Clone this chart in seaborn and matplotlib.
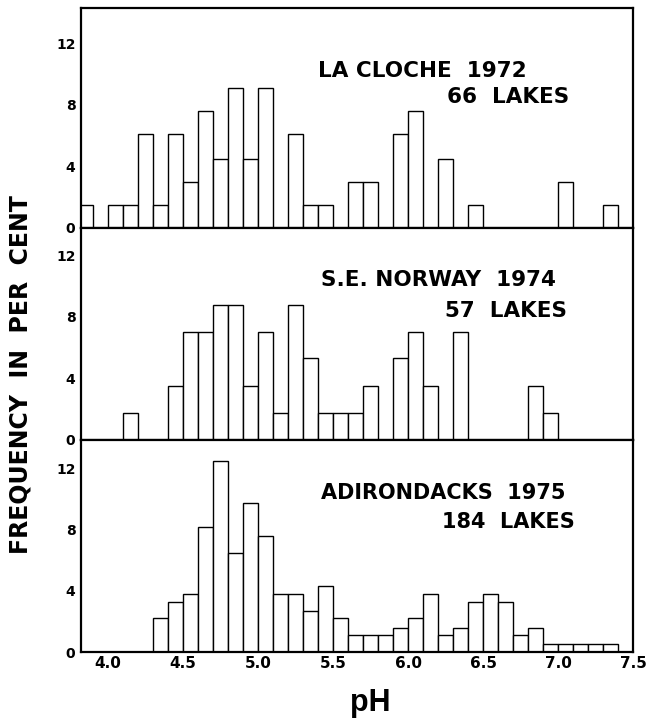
import numpy as np
import pandas as pd
import seaborn as sns
import matplotlib.pyplot as plt

# lower edge of each 0.1 pH class and its frequency in per cent
cloche_ph = [3.8, 4.0, 4.1, 4.2, 4.3, 4.4, 4.5, 4.6, 4.7, 4.8, 4.9, 5.0, 5.2, 5.3,
             5.4, 5.6, 5.7, 5.9, 6.0, 6.2, 6.4, 7.0, 7.3]
cloche_pct = [1.5, 1.5, 1.5, 6.1, 1.5, 6.1, 3.0, 7.6, 4.5, 9.1, 4.5, 9.1, 6.1, 1.5,
              1.5, 3.0, 3.0, 6.1, 7.6, 4.5, 1.5, 3.0, 1.5]

norway_ph = [4.1, 4.4, 4.5, 4.6, 4.7, 4.8, 4.9, 5.0, 5.1, 5.2, 5.3, 5.4, 5.5, 5.6,
             5.7, 5.9, 6.0, 6.1, 6.3, 6.8, 6.9]
norway_pct = [1.75, 3.5, 7.0, 7.0, 8.8, 8.8, 3.5, 7.0, 1.75, 8.8, 5.3, 1.75, 1.75, 1.75,
              3.5, 5.3, 7.0, 3.5, 7.0, 3.5, 1.75]

adk_ph = [4.3, 4.4, 4.5, 4.6, 4.7, 4.8, 4.9, 5.0, 5.1, 5.2, 5.3, 5.4, 5.5, 5.6, 5.7, 5.8,
          5.9, 6.0, 6.1, 6.2, 6.3, 6.4, 6.5, 6.6, 6.7, 6.8, 6.9, 7.0, 7.1, 7.2, 7.3]
adk_pct = [2.2, 3.3, 3.8, 8.2, 12.5, 6.5, 9.8, 7.6, 3.8, 3.8, 2.7, 4.3, 2.2, 1.1, 1.1, 1.1,
           1.6, 2.2, 3.8, 1.1, 1.6, 3.3, 3.8, 3.3, 1.1, 1.6, 0.5, 0.5, 0.5, 0.5, 0.5]

titles = ["LA CLOCHE  1972", "S.E. NORWAY  1974", "ADIRONDACKS  1975"]
counts = ["66  LAKES", "57  LAKES", "184  LAKES"]
y_ticks = [0, 4, 8, 12]
x_ticks = [4.0, 4.5, 5.0, 5.5, 6.0, 6.5, 7.0, 7.5]

sns.set_style("white")
plt.rcParams['font.family'] = ['DejaVu Sans']
plt.rcParams['text.color'] = 'black'
plt.rcParams['xtick.color'] = 'black'
plt.rcParams['ytick.color'] = 'black'

panels = [(cloche_ph, cloche_pct), (norway_ph, norway_pct), (adk_ph, adk_pct)]
ytops = [14.3, 13.8, 13.9]
title_pos = [(0.43, 0.713, 0.885, 0.595),
             (0.435, 0.754, 0.88, 0.609),
             (0.435, 0.749, 0.895, 0.615)]
title_size = [15.5, 15.5, 15]

fig, axes = plt.subplots(3, 1, figsize=(6.48, 7.21), dpi=100, sharex=True,
                         gridspec_kw={'height_ratios': [219.7, 212.3, 212], 'hspace': 0})
fig.subplots_adjust(left=0.125, right=0.977, top=0.989, bottom=0.0957)

bins = [round(b / 10, 1) for b in range(38, 75)]
for i, ax in enumerate(axes):
    ph, pct = panels[i]
    pos = title_pos[i]
    df = pd.DataFrame({'ph': [p + 0.05 for p in ph], 'pct': pct})
    sns.histplot(data=df, x='ph', weights='pct', bins=bins, ax=ax,
                 color='white', edgecolor='black', linewidth=1.0, alpha=1)
    ax.set_xlim(3.82, 7.5)
    ax.set_ylim(0, ytops[i])
    ax.set_yticks(y_ticks)
    ax.set_yticklabels([str(t) for t in y_ticks], fontsize=10, fontweight='bold')
    ax.set_ylabel('')
    ax.set_xlabel('')
    ax.tick_params(axis='y', length=0, pad=4)
    ax.tick_params(axis='x', length=0, pad=3)
    for s in ax.spines.values():
        s.set_color('black')
        s.set_linewidth(1.6)
    ax.text(pos[0], pos[1], titles[i], transform=ax.transAxes, ha='left', va='center',
            fontsize=title_size[i], fontweight='bold')
    ax.text(pos[2], pos[3], counts[i], transform=ax.transAxes, ha='right', va='center',
            fontsize=title_size[i], fontweight='bold')

axes[-1].set_xticks(x_ticks)
axes[-1].set_xticklabels([f"{t:.1f}" for t in x_ticks], fontsize=11, fontweight='bold')

fig.text(0.031, 0.481, "FREQUENCY  IN  PER  CENT", rotation=90, ha='center', va='center',
         fontsize=17, fontweight='bold')
fig.text(0.571, 0.025, "pH", ha='center', va='center', fontsize=22, fontweight='bold',
         family=['Liberation Sans', 'DejaVu Sans'])

fig.savefig('out.png', dpi=100)
